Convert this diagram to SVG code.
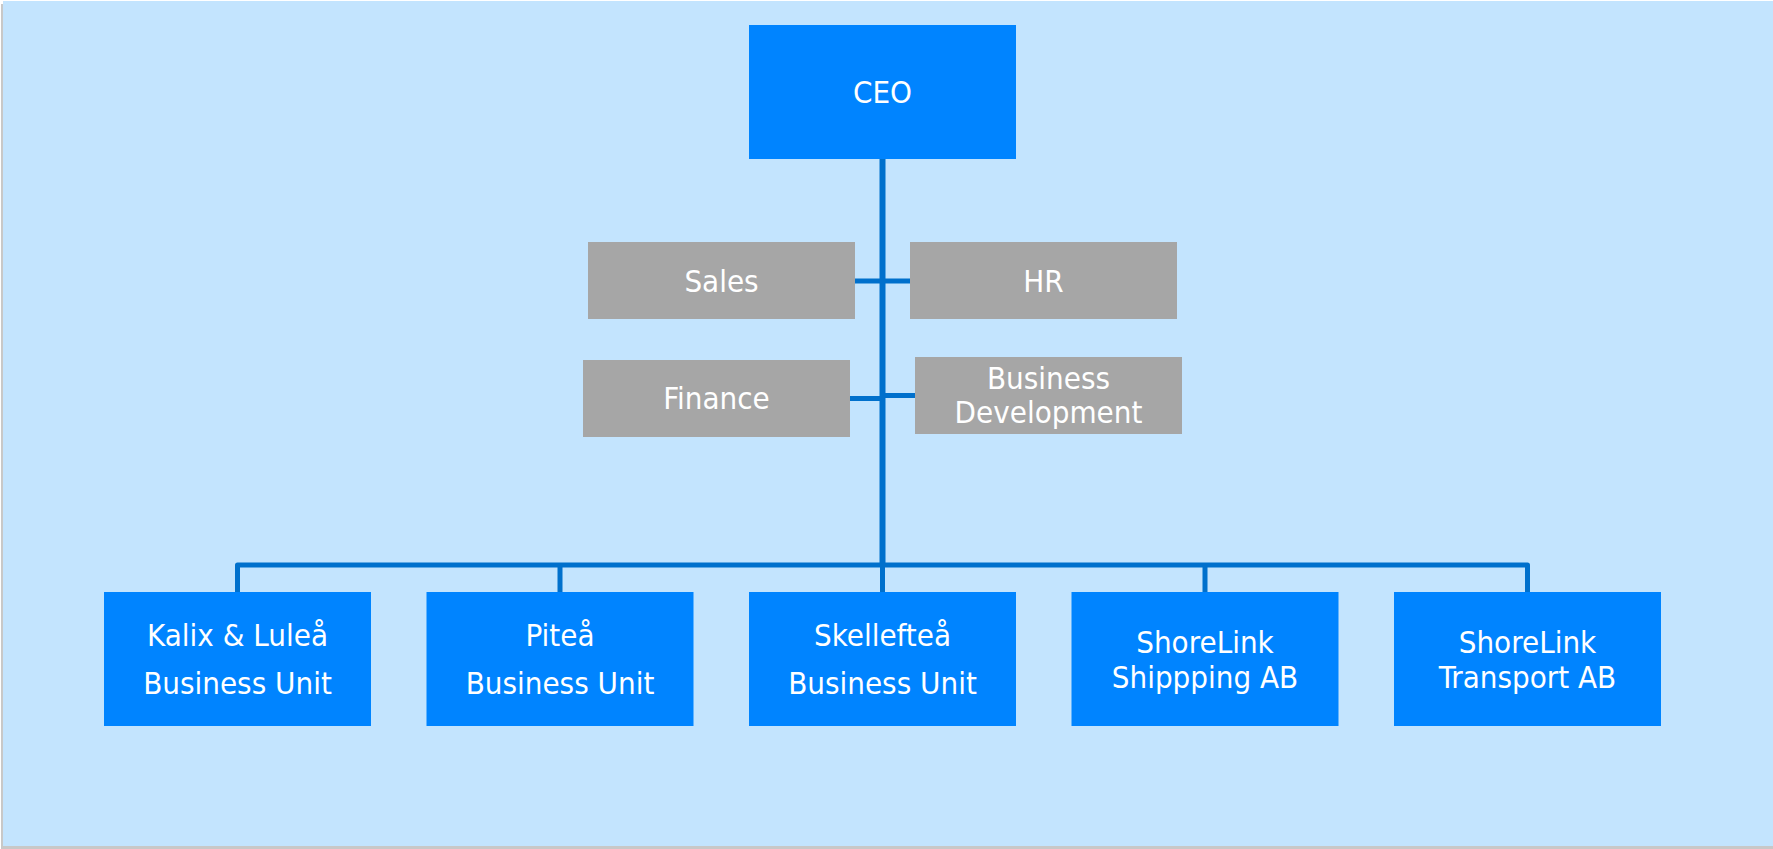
<svg xmlns="http://www.w3.org/2000/svg" width="1773" height="849" viewBox="0 0 1773 849">
<style>
.blue{fill:#0084FF}
.gray{fill:#A6A6A6}
.t{fill:#FFFFFF;font-family:"DejaVu Sans Condensed","DejaVu Sans",sans-serif;font-size:31px;text-anchor:middle}
.c{stroke:#0070CC;stroke-width:5;fill:none;stroke-linejoin:round}
</style>
<rect x="0" y="0" width="1773" height="849" fill="#FFFFFF"/>
<rect x="1" y="4" width="1772" height="845" fill="#C8C8C8"/>
<rect x="3" y="1" width="1770" height="845" fill="#C3E4FE"/>
<g id="connectors">
<path class="c" d="M882.5 159 V565" style="stroke-width:6"/>
<path class="c" d="M237.5 592 V565 H1527.5 V592"/>
<path class="c" d="M560 565 V592 M1205 565 V592 M882.5 565 V592"/>
<path class="c" d="M855 281 H910"/>
<path class="c" d="M850 398.5 H882.5"/>
<path class="c" d="M882.5 395.5 H915"/>
</g>
<g id="ceo"><rect class="blue" x="749" y="25" width="267" height="134"/><text class="t" x="882.5" y="103">CEO</text></g>
<g id="sales"><rect class="gray" x="588" y="242" width="267" height="77"/><text class="t" x="721.5" y="292">Sales</text></g>
<g id="hr"><rect class="gray" x="910" y="242" width="267" height="77"/><text class="t" x="1043.5" y="292">HR</text></g>
<g id="finance"><rect class="gray" x="583" y="360" width="267" height="77"/><text class="t" x="716.5" y="409">Finance</text></g>
<g id="bizdev"><rect class="gray" x="915" y="357" width="267" height="77"/><text class="t" x="1048.5" y="389">Business</text><text class="t" x="1048.5" y="423">Development</text></g>
<g id="kalix"><rect class="blue" x="104" y="592" width="267" height="134"/><text class="t" x="237.5" y="646">Kalix &amp; Luleå</text><text class="t" x="237.5" y="694">Business Unit</text></g>
<g id="pitea"><rect class="blue" x="426.5" y="592" width="267" height="134"/><text class="t" x="560" y="646">Piteå</text><text class="t" x="560" y="694">Business Unit</text></g>
<g id="skelleftea"><rect class="blue" x="749" y="592" width="267" height="134"/><text class="t" x="882.5" y="646">Skellefteå</text><text class="t" x="882.5" y="694">Business Unit</text></g>
<g id="shipping"><rect class="blue" x="1071.5" y="592" width="267" height="134"/><text class="t" x="1205" y="653">ShoreLink</text><text class="t" x="1205" y="688">Shippping AB</text></g>
<g id="transport"><rect class="blue" x="1394" y="592" width="267" height="134"/><text class="t" x="1527.5" y="653">ShoreLink</text><text class="t" x="1527.5" y="688">Transport AB</text></g>
</svg>
